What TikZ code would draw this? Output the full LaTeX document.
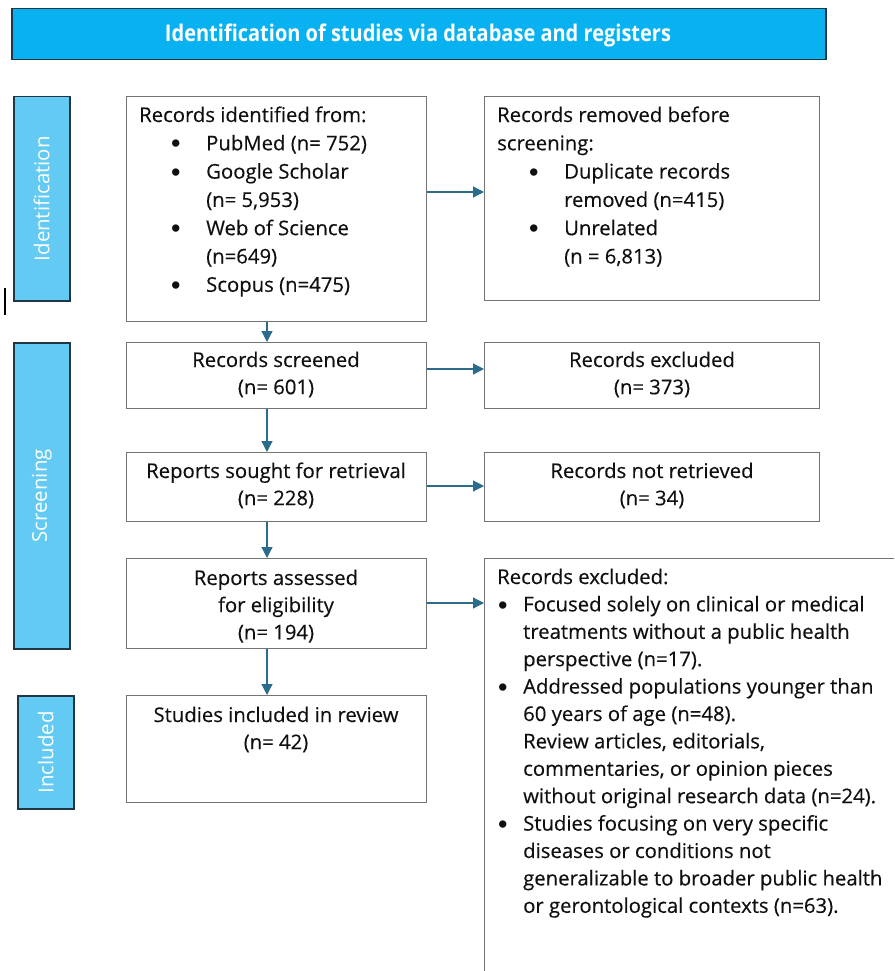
\documentclass[tikz,border=0pt]{standalone}
\usepackage{fontspec}
\usepackage{graphicx}
\setmainfont{Open Sans}
\newfontfamily\bodyfont{Open Sans}[FakeBold=0.35]
\newfontfamily\bulfont{Liberation Sans}
\usetikzlibrary{arrows.meta,calc}
\definecolor{hdrfill}{HTML}{08B1EF}
\definecolor{barfill}{HTML}{63CBF3}
\definecolor{barline}{HTML}{1E3645}
\definecolor{boxline}{HTML}{737373}
\definecolor{arrcol}{HTML}{2B6C8C}
\definecolor{txtcol}{HTML}{101010}
\newcommand\bigbul{\raisebox{-2.6pt}{\bulfont\fontsize{27}{27}\selectfont\textbullet}}
\newcommand\bulA{\hspace*{32pt}\makebox[35pt][l]{\bigbul}}
\newcommand\indA{\hspace*{67pt}}
\newcommand\bulC{\hspace*{1pt}\makebox[25pt][l]{\bigbul}}
\newcommand\indC{\hspace*{26pt}}
\begin{document}
\begin{tikzpicture}[x=1pt,y=-1pt,
  box/.style={draw=boxline, line width=1.3pt, inner sep=0pt, anchor=north west},
  sidebar/.style={draw=barline, fill=barfill, line width=1.5pt, inner sep=0pt, anchor=north west},
  flow/.style={draw=arrcol, line width=1.2pt, -{Triangle[length=11pt,width=11pt]}},
  bodyA/.style={inner sep=0pt, text=txtcol, font=\bodyfont\fontsize{20.3}{28.3}\selectfont},
  bodyB/.style={inner sep=0pt, text=txtcol, font=\bodyfont\fontsize{20.3}{27.2}\selectfont},
  bodyC/.style={inner sep=0pt, text=txtcol, font=\bodyfont\fontsize{20.3}{27.4}\selectfont},
  vlabel/.style={text=white, rotate=90, font=\fontsize{20.4}{24}\selectfont, inner sep=0pt}]
\useasboundingbox (0,0) rectangle (894,971);
\clip (0,0) rectangle (894,971);

% header
\node[draw=barline, fill=hdrfill, line width=1.5pt, minimum width=814pt, minimum height=51pt,
      anchor=north west, inner sep=0pt] (hdr) at (11,8) {};
\node[text=white, font=\bfseries\fontsize{23}{26}\selectfont, anchor=base, inner sep=0pt] (hdrtxt) at (418,42)
  {\resizebox{506pt}{\height}{Identification of studies via database and registers}};

% side bars
\node[sidebar, minimum width=56pt, minimum height=204pt] (sid) at (13,96) {};
\node[vlabel] (sidtxt) at (sid.center) {Identification};
\node[sidebar, minimum width=56pt, minimum height=306pt] (sscr) at (13,342) {};
\node[vlabel] (sscrtxt) at (sscr.center) {Screening};
\node[sidebar, minimum width=56pt, minimum height=113pt] (sinc) at (17,695) {};
\node[vlabel] (sinctxt) at (sinc.center) {Included};

% stray mark
\draw[line width=1.3pt, black] (5,288) -- (5,315);

% boxes
\node[box, minimum width=300pt, minimum height=225pt] (b1) at (126,96) {};
\node[box, minimum width=335pt, minimum height=204pt] (b2) at (484,96) {};
\node[box, minimum width=300pt, minimum height=66pt] (b3) at (126,342) {};
\node[box, minimum width=335pt, minimum height=66pt] (b4) at (484,342) {};
\node[box, minimum width=300pt, minimum height=69pt] (b5) at (126,452) {};
\node[box, minimum width=335pt, minimum height=69pt] (b6) at (484,452) {};
\node[box, minimum width=300pt, minimum height=90pt] (b7) at (126,558) {};
\node[box, minimum width=440pt, minimum height=440pt] (b8) at (484,558) {};
\node[box, minimum width=300pt, minimum height=107pt] (b9) at (126,695) {};

% texts
\node[bodyA, anchor=base west] (t1) at (139,122) {\begin{tabular}[t]{@{}l@{}}
Records identified from:\\
\bulA PubMed (n= 752)\\
\bulA Google Scholar\\
\indA (n= 5,953)\\
\bulA Web of Science\\
\indA (n=649)\\
\bulA Scopus (n=475)
\end{tabular}};
\node[bodyA, anchor=base west] (t2) at (497,122) {\begin{tabular}[t]{@{}l@{}}
Records removed before\\
screening:\\
\bulA Duplicate records\\
\indA removed (n=415)\\
\bulA Unrelated\\
\indA (n = 6,813)
\end{tabular}};
\node[bodyB, anchor=base] (t3) at (276,367) {\begin{tabular}[t]{@{}c@{}}Records screened\\(n= 601)\end{tabular}};
\node[bodyB, anchor=base] (t4) at (652,367) {\begin{tabular}[t]{@{}c@{}}Records excluded\\(n= 373)\end{tabular}};
\node[bodyB, anchor=base] (t5) at (276,478) {\begin{tabular}[t]{@{}c@{}}Reports sought for retrieval\\(n= 228)\end{tabular}};
\node[bodyB, anchor=base] (t6) at (652,478) {\begin{tabular}[t]{@{}c@{}}Records not retrieved\\(n= 34)\end{tabular}};
\node[bodyB, anchor=base] (t7) at (276,585) {\begin{tabular}[t]{@{}c@{}}Reports assessed\\for eligibility\\(n= 194)\end{tabular}};
\node[bodyB, anchor=base] (t9) at (276,722) {\begin{tabular}[t]{@{}c@{}}Studies included in review\\(n= 42)\end{tabular}};
\node[bodyC, anchor=base west] (t8) at (497,584) {\begin{tabular}[t]{@{}l@{}}
Records excluded:\\
\bulC Focused solely on clinical or medical\\
\indC treatments without a public health\\
\indC perspective (n=17).\\
\bulC Addressed populations younger than\\
\indC 60 years of age (n=48).\\
\indC Review articles, editorials,\\
\indC commentaries, or opinion pieces\\
\indC without original research data (n=24).\\
\bulC Studies focusing on very specific\\
\indC diseases or conditions not\\
\indC generalizable to broader public health\\
\indC or gerontological contexts (n=63).
\end{tabular}};

% connectors
\coordinate (vx) at (267,0);
\coordinate (r1) at (0,192);
\coordinate (r2) at (0,369);
\coordinate (r3) at (0,486);
\coordinate (r4) at (0,603);
\draw[flow] (b1.east |- r1) -- (b2.west |- r1);
\draw[flow] (b3.east |- r2) -- (b4.west |- r2);
\draw[flow] (b5.east |- r3) -- (b6.west |- r3);
\draw[flow] (b7.east |- r4) -- (b8.west |- r4);
\draw[flow] (b1.south -| vx) -- (b3.north -| vx);
\draw[flow] (b3.south -| vx) -- (b5.north -| vx);
\draw[flow] (b5.south -| vx) -- (b7.north -| vx);
\draw[flow] (b7.south -| vx) -- (b9.north -| vx);
\end{tikzpicture}
\end{document}
